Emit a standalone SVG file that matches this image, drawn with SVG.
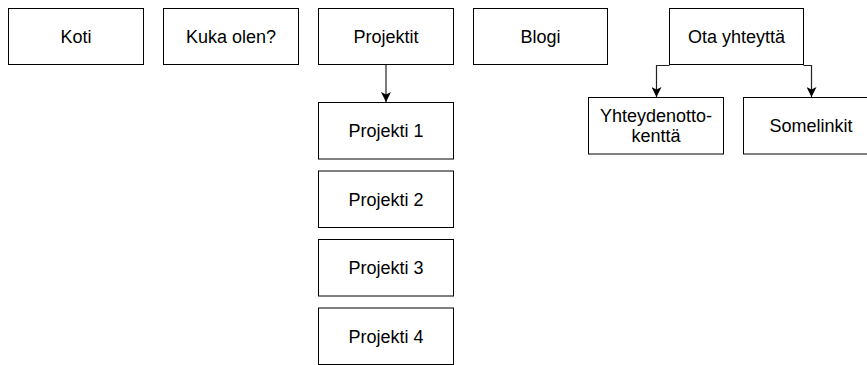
<svg xmlns="http://www.w3.org/2000/svg" width="867" height="365" viewBox="0 0 867 365">
  <style>
    .box { fill: #ffffff; stroke: #000000; stroke-width: 1; }
    .label { font-family: "Liberation Sans", Arial, Helvetica, sans-serif; font-size: 18px; fill: #000000; text-anchor: middle; }
    .edge { fill: none; stroke: #222222; stroke-width: 1.2; }
  </style>
  <defs>
    <marker id="arrow" viewBox="0 0 10 10" refX="10" refY="5" markerWidth="11" markerHeight="10" markerUnits="userSpaceOnUse" orient="auto">
      <path d="M0,0 L10,5 L0,10 L2.5,5 Z" fill="#000000"/>
    </marker>
  </defs>
  <rect width="867" height="365" fill="#ffffff"/>

  <!-- top-level menu items -->
  <g id="koti">
    <rect class="box" x="8.5" y="8.5" width="135" height="56"/>
    <text class="label" x="76" y="43">Koti</text>
  </g>
  <g id="kuka-olen">
    <rect class="box" x="163.5" y="8.5" width="135" height="56"/>
    <text class="label" x="231" y="43">Kuka olen?</text>
  </g>
  <g id="projektit">
    <rect class="box" x="318.5" y="8.5" width="135" height="56"/>
    <text class="label" x="386" y="43">Projektit</text>
  </g>
  <g id="blogi">
    <rect class="box" x="473.5" y="8.5" width="134" height="56"/>
    <text class="label" x="540.5" y="43">Blogi</text>
  </g>
  <g id="ota-yhteytta">
    <rect class="box" x="669.5" y="8.5" width="134" height="56"/>
    <text class="label" x="736.5" y="43">Ota yhteyttä</text>
  </g>

  <!-- project sub-pages -->
  <g id="projekti-1">
    <rect class="box" x="318.5" y="102.5" width="135" height="56.5"/>
    <text class="label" x="386" y="137">Projekti 1</text>
  </g>
  <g id="projekti-2">
    <rect class="box" x="318.5" y="171" width="135" height="56.5"/>
    <text class="label" x="386" y="205.5">Projekti 2</text>
  </g>
  <g id="projekti-3">
    <rect class="box" x="318.5" y="239.5" width="135" height="56.5"/>
    <text class="label" x="386" y="274">Projekti 3</text>
  </g>
  <g id="projekti-4">
    <rect class="box" x="318.5" y="308" width="135" height="56.5"/>
    <text class="label" x="386" y="342.5">Projekti 4</text>
  </g>

  <!-- contact sub-pages -->
  <g id="yhteydenottokentta">
    <rect class="box" x="588.5" y="97.5" width="135" height="56.5"/>
    <text class="label" x="656" y="122">Yhteydenotto-</text>
    <text class="label" x="656" y="142">kenttä</text>
  </g>
  <g id="somelinkit">
    <rect class="box" x="743.5" y="97.5" width="135" height="56.5"/>
    <text class="label" x="811" y="132">Somelinkit</text>
  </g>

  <!-- connectors -->
  <g id="connectors">
    <path class="edge" d="M386,65 V102" marker-end="url(#arrow)"/>
    <path class="edge" d="M669.5,65.5 H656.5 V97" marker-end="url(#arrow)"/>
    <path class="edge" d="M803.5,65.5 H811.5 V97" marker-end="url(#arrow)"/>
  </g>
</svg>
